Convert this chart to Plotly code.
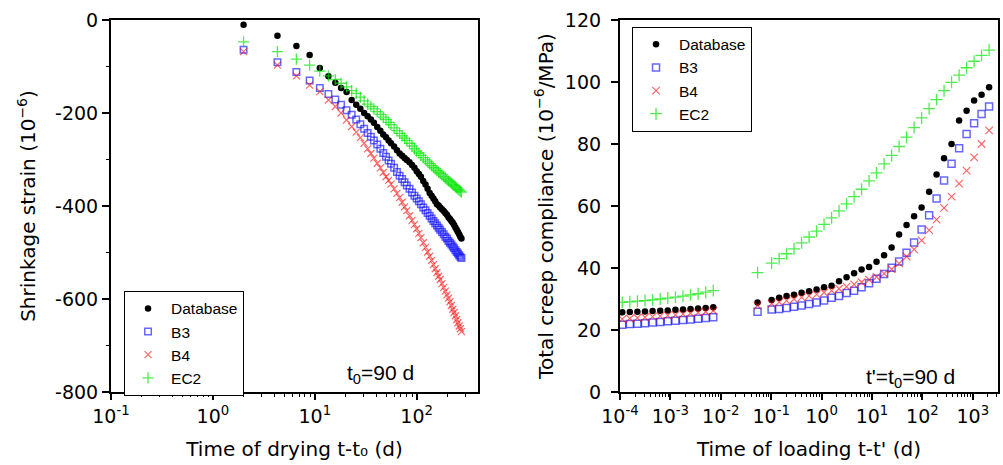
import plotly.graph_objects as go

# ---------------- Left panel: shrinkage ----------------
drying_days = [2, 4.3, 6.6, 8.9, 11.2, 13.6, 15.9, 18.1, 20.5, 23,
               25.5, 28, 30.5, 33, 35.5, 38, 41, 44, 47, 50,
               53, 56, 60, 64, 68, 72, 76, 80, 85, 90,
               95, 100, 105, 110, 116, 122, 128, 134, 140, 146,
               152, 158, 164, 170, 177, 184, 191, 198, 205, 212,
               219, 226, 233, 240, 247, 254, 261, 268, 275]
shr_database = [-10, -34, -56, -75, -103, -121, -135, -146, -155, -172,
                -182, -191, -200, -207, -214, -221, -230, -238, -246, -252,
                -259, -265, -272, -280, -287, -292, -297, -301, -306, -312,
                -318, -325, -331, -337, -346, -354, -363, -372, -378, -384,
                -390, -396, -399, -403, -407, -411, -415, -419, -424, -428,
                -432, -436, -441, -446, -451, -456, -461, -466, -470]
shr_b3 = [-64, -91, -112, -130, -146, -159, -171, -182, -194, -204,
          -214, -224, -234, -243, -251, -259, -268, -277, -286, -294,
          -302, -309, -318, -327, -335, -342, -349, -356, -363, -371,
          -378, -384, -390, -396, -403, -409, -415, -421, -427, -432,
          -437, -442, -447, -451, -456, -461, -466, -470, -475, -479,
          -483, -487, -491, -495, -499, -502, -506, -509, -512]
shr_b4 = [-68, -97, -120, -140, -154, -172, -186, -200, -215, -229,
          -241, -253, -265, -277, -287, -297, -308, -318, -328, -337,
          -345, -353, -363, -373, -382, -392, -402, -410, -421, -431,
          -440, -449, -459, -468, -479, -489, -499, -508, -517, -526,
          -535, -543, -551, -558, -567, -575, -583, -591, -598, -606,
          -614, -622, -629, -636, -644, -651, -658, -664, -670]
shr_ec2 = [-47, -68, -84, -97, -110, -120, -128, -136, -144, -152,
           -158, -166, -174, -181, -186, -191, -197, -203, -209, -214,
           -220, -225, -232, -238, -244, -249, -254, -259, -265, -271,
           -277, -282, -286, -291, -296, -301, -305, -309, -313, -317,
           -320, -324, -327, -330, -333, -337, -340, -343, -346, -348,
           -351, -354, -356, -359, -361, -364, -366, -368, -370]

# ---------------- Right panel: creep compliance ----------------
load_days = [1.11e-4, 1.57e-4, 2.22e-4, 3.14e-4, 4.44e-4, 6.28e-4, 8.88e-4,
             1.26e-3, 1.78e-3, 2.51e-3, 3.55e-3, 5.02e-3, 7.10e-3,
             0.0537, 0.102, 0.144, 0.202, 0.284, 0.401, 0.565, 0.796, 1.12, 1.58,
             2.22, 3.13, 4.42, 6.22, 8.75, 12.3, 17.4, 24.5, 34.5, 48.5,
             68.4, 96.4, 136, 191, 269, 379, 535, 753, 1062, 1493, 2104]
crp_database = [25.7, 25.8, 25.9, 26.0, 26.1, 26.2, 26.3, 26.5, 26.6, 26.8, 26.9, 27.1, 27.3,
                28.9, 29.7, 30.4, 31.0, 31.4, 32.0, 32.5, 33.1, 33.8, 34.3,
                35.7, 37.0, 38.3, 39.5, 40.3, 42.0, 44.1, 46.6, 50.8, 53.9,
                56.7, 59.5, 64.6, 70.2, 75.4, 80.0, 87.6, 90.7, 94.0, 95.9, 98.3]
crp_b3 = [21.7, 21.9, 22.0, 22.2, 22.4, 22.6, 22.8, 23.0, 23.2, 23.4, 23.6, 23.9, 24.1,
          25.9, 26.6, 26.8, 27.1, 27.5, 27.9, 28.4, 28.9, 29.5, 30.4,
          31.0, 31.9, 32.7, 33.8, 35.1, 36.5, 38.1, 40.1, 42.1, 44.9,
          48.2, 52.4, 57.0, 62.4, 68.2, 73.6, 78.6, 83.2, 86.7, 89.7, 92.1]
crp_b4 = [23.5, 23.7, 23.9, 24.1, 24.3, 24.5, 24.7, 24.9, 25.1, 25.4, 25.6, 25.9, 26.2,
          27.9, 28.5, 29.0, 29.5, 30.0, 30.5, 31.0, 31.5, 32.1, 32.7,
          33.3, 34.0, 34.7, 35.4, 36.2, 37.1, 38.2, 39.6, 41.5, 43.7,
          46.0, 48.9, 52.2, 55.6, 59.4, 63.0, 67.2, 71.4, 75.7, 80.0, 84.4]
crp_ec2 = [28.9, 29.1, 29.3, 29.5, 29.7, 30.0, 30.3, 30.6, 30.9, 31.3, 31.7, 32.2, 32.7,
           38.5, 41.6, 43.0, 44.6, 46.2, 48.1, 50.0, 51.9, 54.1, 56.2,
           58.4, 60.7, 63.0, 65.4, 68.1, 70.7, 73.6, 76.3, 79.2, 82.2,
           85.3, 88.4, 91.4, 94.3, 97.2, 99.9, 102.2, 104.6, 106.7, 108.6, 110.3]

series_names = ["Database", "B3", "B4", "EC2"]

# ticks
left_x_tickvals = [0.1, 1, 10, 100]
left_x_ticktext = ["10<sup>-1</sup>", "10<sup>0</sup>", "10<sup>1</sup>", "10<sup>2</sup>"]
left_y_tickvals = [-800, -600, -400, -200, 0]
left_y_ticktext = ["-800", "-600", "-400", "-200", "0"]
left_y_minor = [-700, -500, -300, -100]
right_x_tickvals = [1e-4, 1e-3, 1e-2, 1e-1, 1, 10, 100, 1000]
right_x_ticktext = ["10<sup>-4</sup>", "10<sup>-3</sup>", "10<sup>-2</sup>", "10<sup>-1</sup>",
                    "10<sup>0</sup>", "10<sup>1</sup>", "10<sup>2</sup>", "10<sup>3</sup>"]
right_y_tickvals = [0, 20, 40, 60, 80, 100, 120]
right_y_ticktext = ["0\u00a0", "20\u00a0", "40\u00a0", "60\u00a0", "80\u00a0", "100\u00a0", "120\u00a0"]

left_x_minor = [m * 10.0 ** e for e in range(-1, 3) for m in range(2, 10) if m * 10.0 ** e < 400]
right_x_minor = [m * 10.0 ** e for e in range(-4, 4) for m in range(2, 10) if m * 10.0 ** e < 3100]

styles = {
    "Database": dict(symbol="circle", color="black", line=dict(width=0)),
    "B3": dict(symbol="square-open", color="rgba(0,0,255,0.6)", line=dict(width=1.5, color="rgba(0,0,255,0.6)")),
    "B4": dict(symbol="x-thin-open", color="rgba(255,0,0,0.6)", line=dict(width=1.2, color="rgba(255,0,0,0.6)")),
    "EC2": dict(symbol="cross-thin-open", color="rgba(0,230,0,0.7)", line=dict(width=1.3, color="rgba(0,230,0,0.7)")),
}
sizes_left = {"Database": 6.5, "B3": 6.5, "B4": 7, "EC2": 8}
sizes_right = {"Database": 6.5, "B3": 7, "B4": 7.5, "EC2": 8.5}

fig = go.Figure()
left_data = [shr_database, shr_b3, shr_b4, shr_ec2]
right_data = [crp_database, crp_b3, crp_b4, crp_ec2]
for name, ys in zip(series_names, left_data):
    st = styles[name]
    fig.add_trace(go.Scatter(x=drying_days, y=ys, mode="markers", name=name,
                             marker=dict(symbol=st["symbol"], color=st["color"], size=sizes_left[name], line=st["line"]),
                             xaxis="x", yaxis="y", legend="legend"))
for name, ys in zip(series_names, right_data):
    st = styles[name]
    fig.add_trace(go.Scatter(x=load_days, y=ys, mode="markers", name=name,
                             marker=dict(symbol=st["symbol"], color=st["color"], size=sizes_right[name], line=st["line"]),
                             xaxis="x2", yaxis="y2", legend="legend2"))

tick_font = dict(family="DejaVu Sans", size=19, color="black")
title_font = dict(family="DejaVu Sans", size=20, color="black")
axis_common = dict(showline=True, linecolor="black", linewidth=2, mirror=True, showgrid=False,
                   zeroline=False, ticks="outside", tickcolor="black", tickwidth=1.5,
                   tickfont=tick_font, automargin=True)

legend_common = dict(bgcolor="white", bordercolor="black", borderwidth=1,
                     font=dict(family="Arial, Liberation Sans", size=15.5, color="black"),
                     xanchor="left", yanchor="top", tracegroupgap=0, itemwidth=36)

fig.update_layout(
    width=1003, height=465,
    margin=dict(l=111, r=5, t=20, b=73, autoexpand=False),
    plot_bgcolor="white", paper_bgcolor="white",
    xaxis=dict(axis_common, type="log", range=[-1, 2.602], domain=[0, 0.4138], anchor="y",
               tickmode="array", tickvals=left_x_tickvals, ticktext=left_x_ticktext, ticklen=6,
               minor=dict(tickmode="array", tickvals=left_x_minor, ticks="outside", ticklen=3,
                          tickcolor="black", tickwidth=1),
               title=dict(text="Time of drying t-t\u2080 (d)", font=title_font, standoff=16)),
    yaxis=dict(axis_common, range=[-800, 0], domain=[0, 1], anchor="x",
               tickmode="array", tickvals=left_y_tickvals, ticktext=left_y_ticktext, ticklen=7,
               minor=dict(tickmode="array", tickvals=left_y_minor, ticks="outside", ticklen=3.5,
                          tickcolor="black", tickwidth=1),
               title=dict(text="Shrinkage strain (10<sup>\u22126</sup>)", font=title_font, standoff=14)),
    xaxis2=dict(axis_common, type="log", range=[-4, 3.5], domain=[0.5738, 1.0], anchor="y2",
                tickmode="array", tickvals=right_x_tickvals, ticktext=right_x_ticktext, ticklen=6,
                minor=dict(tickmode="array", tickvals=right_x_minor, ticks="outside", ticklen=3,
                           tickcolor="black", tickwidth=1),
                title=dict(text="Time of loading t-t' (d)", font=title_font, standoff=16)),
    yaxis2=dict(axis_common, range=[0, 120], domain=[0, 1], anchor="x2",
                tickmode="array", tickvals=right_y_tickvals, ticktext=right_y_ticktext, ticklen=7,
                title=dict(text="Total creep compliance (10<sup>\u22126</sup>/MPa)", font=title_font, standoff=6)),
    legend=dict(legend_common, x=0.0147, y=0.272),
    legend2=dict(legend_common, x=0.5874, y=0.982),
    annotations=[
        dict(text="t<sub>0</sub>=90 d", xref="paper", yref="paper", x=0.3033, y=0.048,
             xanchor="center", yanchor="middle", showarrow=False,
             font=dict(family="Arial, Liberation Sans", size=21, color="black")),
        dict(text="t'=t<sub>0</sub>=90 d", xref="paper", yref="paper", x=0.9008, y=0.0376,
             xanchor="center", yanchor="middle", showarrow=False,
             font=dict(family="Arial, Liberation Sans", size=21, color="black")),
    ],
)

fig.write_html("out.html")
